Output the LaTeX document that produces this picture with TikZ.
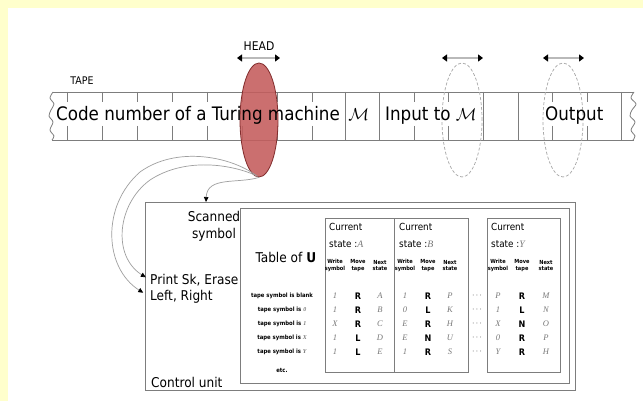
\documentclass[tikz,border=0pt]{standalone}
\usepackage{fontspec}
\setmainfont{DejaVu Sans}
\newfontfamily\cond{DejaVu Sans Condensed}
\newfontfamily\seriff{Liberation Serif}
\usetikzlibrary{arrows.meta,shapes.geometric,calc}
\definecolor{bgyellow}{RGB}{255,255,204}
\definecolor{headred}{RGB}{196,92,92}
\definecolor{headedge}{RGB}{130,45,45}
\definecolor{linegray}{RGB}{125,125,125}
\definecolor{lettergray}{RGB}{120,120,120}
\newcommand{\gl}[1]{{\color{lettergray}\seriff\itshape #1}}
\begin{document}
\begin{tikzpicture}[x=1pt,y=-1pt,
  tapeline/.style={draw=linegray,line width=0.8pt},
  boxline/.style={draw=linegray,line width=0.9pt,inner sep=0pt},
  conn/.style={draw=gray!75,line width=0.7pt},
  tipend/.style={-{Triangle[length=5pt,width=4.5pt,color=black]}},
  dblarrow/.style={{Triangle[length=5pt,width=7pt,color=black]}-{Triangle[length=5pt,width=7pt,color=black]},draw=gray!55,line width=1.3pt},
  bigtxt/.style={inner sep=0pt,font=\cond\fontsize{18.6}{20}\selectfont},
  midtxt/.style={inner sep=0pt,font=\cond\fontsize{13.5}{17}\selectfont},
  lbltxt/.style={inner sep=0pt,font=\cond\fontsize{10.5}{12}\selectfont},
  curtxt/.style={inner sep=0pt,font=\cond\fontsize{9.8}{11}\selectfont},
  tinytxt/.style={inner sep=0pt,font=\cond\bfseries\fontsize{5.9}{7}\selectfont},
  hdrtxt/.style={inner sep=0pt,align=center,font=\cond\bfseries\fontsize{5.6}{6.5}\selectfont},
  movetxt/.style={inner sep=0pt,font=\cond\bfseries\fontsize{9}{9}\selectfont},
  lettxt/.style={inner sep=0pt,font=\fontsize{8.5}{9}\selectfont},
  dashell/.style={ellipse,draw=gray!70,densely dashed,line width=0.7pt,minimum width=40pt,minimum height=114pt,inner sep=0pt}]

\fill[bgyellow] (0,0) rectangle (643,401);
\fill[white] (8,8) rectangle (643,401);
\useasboundingbox (0,0) rectangle (643,401);

% tape
\draw[tapeline] (53,92) -- (634,92);
\draw[tapeline] (52,140) -- (634,140);
\draw[tapeline] plot[smooth] coordinates {(53,92)(50,98)(54,104)(51,110)(49,116)(53,122)(50,130)(54,136)(52,140)};
\draw[tapeline] plot[smooth] coordinates {(634,92)(631,98)(636,104)(632,110)(630,116)(635,122)(631,130)(635,136)(633,140)};
\foreach \x in {67,102,137,172,207,242,277,312,414,448,552,587} {
  \draw[tapeline] (\x,92) -- (\x,102);
  \draw[tapeline] (\x,126) -- (\x,140);
}
\foreach \x in {345,379,483,518,621} {
  \draw[tapeline] (\x,92) -- (\x,140);
}

% head and other ellipses
\node[ellipse,draw=headedge,fill=headred,fill opacity=0.88,line width=0.8pt,minimum width=38pt,minimum height=114pt,inner sep=0pt] (head) at (259,120) {};
\node[dashell] (inell) at (462,120) {};
\node[dashell] (outell) at (563,120) {};

% tape texts
\node[bigtxt,anchor=base west] (code) at (56,121) {Code number of a Turing machine \,$\mathcal{M}$};
\node[bigtxt,anchor=base west] (input) at (385,121) {Input to $\mathcal{M}$};
\node[bigtxt,anchor=base west] (output) at (545,121) {Output};

\node[lbltxt] (tape) at (82,81) {TAPE};
\node[lbltxt,font=\cond\fontsize{12}{13}\selectfont] (headlbl) at (259,46) {HEAD};

% move arrows
\coordinate (ha1) at (237,58); \coordinate (ha2) at (280,58);
\coordinate (ia1) at (442,58); \coordinate (ia2) at (483,58);
\coordinate (oa1) at (543,58); \coordinate (oa2) at (584,58);
\draw[dblarrow] (ha1) -- (ha2);
\draw[dblarrow] (ia1) -- (ia2);
\draw[dblarrow] (oa1) -- (oa2);

% control unit
\node[boxline,line width=1.2pt,anchor=north west,minimum width=430pt,minimum height=188pt] (ctrl) at (145,202) {};
\node[boxline,anchor=north west,minimum width=329pt,minimum height=175pt] (tbl) at (240,208) {};
\node[boxline,anchor=north west,minimum width=143pt,minimum height=154pt] (boxab) at (325,218) {};
\draw[linegray,line width=0.9pt] (boxab.north west) ++(69,0) coordinate (divtop) -- (divtop |- boxab.south);
\node[boxline,anchor=north west,minimum width=73pt,minimum height=154pt] (boxy) at (487,218) {};

\node[midtxt,align=center] (scan) at (214,226) {Scanned\\symbol};
\node[midtxt,anchor=west] (print) at (150,280) {Print Sk, Erase};
\node[midtxt,anchor=west] (leftright) at (150,297) {Left, Right};
\node[midtxt,anchor=west] (cu) at (151,382) {Control unit};
\node[midtxt] (tableu) at (286,257) {Table of \textbf{U}};

% tape symbol rows
\node[tinytxt] (ts1) at (282,296) {tape symbol is blank};
\node[tinytxt] (ts2) at (282,310) {tape symbol is \gl{0}};
\node[tinytxt] (ts3) at (282,324) {tape symbol is \gl{1}};
\node[tinytxt] (ts4) at (282,338) {tape symbol is \gl{X}};
\node[tinytxt] (ts5) at (282,352) {tape symbol is \gl{Y}};
\node[tinytxt] (ts6) at (282,370) {etc.};

% state headers
\node[curtxt,anchor=west] (ca) at (329,227) {Current};
\node[curtxt,anchor=west] (sa) at (329,244) {state :\gl{A}};
\node[curtxt,anchor=west] (cb) at (399,227) {Current};
\node[curtxt,anchor=west] (sb) at (399,244) {state :\gl{B}};
\node[curtxt,anchor=west] (cy) at (491,227) {Current};
\node[curtxt,anchor=west] (sy) at (491,244) {state :\gl{Y}};

\foreach \px/\nm in {335/a,405/b,498/y} {
  \node[hdrtxt] (hw\nm) at (\px,265.5) {Write\\symbol};
}
\foreach \px/\nm in {358/a,428/b,522/y} {
  \node[hdrtxt] (hm\nm) at (\px,265.5) {Move\\tape};
}
\foreach \px/\nm in {380/a,450/b,546/y} {
  \node[hdrtxt] (hn\nm) at (\px,265.5) {Next\\state};
}

\foreach \w/\m/\n [count=\i] in {1/R/A,1/R/B,X/R/C,1/L/D,1/L/E} {
  \node[lettxt] (aw\i) at (335,{282+14*\i}) {\gl{\w}};
  \node[movetxt] (am\i) at (358,{282+14*\i}) {\m};
  \node[lettxt] (an\i) at (380,{282+14*\i}) {\gl{\n}};
}
\foreach \w/\m/\n [count=\i] in {1/R/P,0/L/K,E/R/H,E/N/U,1/R/S} {
  \node[lettxt] (bw\i) at (405,{282+14*\i}) {\gl{\w}};
  \node[movetxt] (bm\i) at (428,{282+14*\i}) {\m};
  \node[lettxt] (bn\i) at (450,{282+14*\i}) {\gl{\n}};
}
\foreach \w/\m/\n [count=\i] in {P/R/M,1/L/N,X/N/O,0/R/P,Y/R/H} {
  \node[lettxt] (yw\i) at (498,{282+14*\i}) {\gl{\w}};
  \node[movetxt] (ym\i) at (522,{282+14*\i}) {\m};
  \node[lettxt] (yn\i) at (546,{282+14*\i}) {\gl{\n}};
  \node[lettxt] (dots\i) at (477,{282+14*\i}) {$\cdots$};
}

% connectors from head
\coordinate (scantip) at ($(ctrl.north west)+(61,0)$);
\draw[conn,tipend] (head.south) .. controls (238,184) and (207,176) .. (scantip);
\draw[conn,tipend,shorten >=5pt] ($(head.south)+(-1,-1)$) .. controls (232,164) and (185,157) .. (150,180) .. controls (117,204) and (112,256) .. (print.west);
\draw[conn,tipend,shorten >=8pt] ($(head.south)+(-3,-2)$) .. controls (230,156) and (176,146) .. (140,172) .. controls (101,206) and (104,268) .. (leftright.west);

\end{tikzpicture}
\end{document}
